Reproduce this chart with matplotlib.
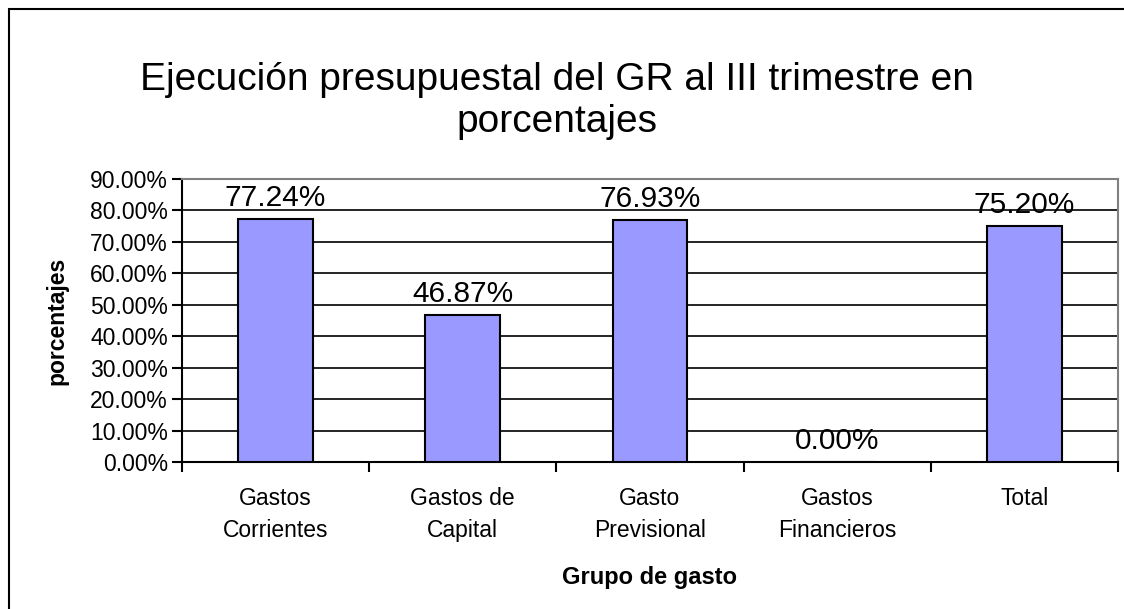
import numpy as np
import matplotlib.pyplot as plt
from matplotlib.patches import Rectangle

plt.rcParams['font.family'] = ['Liberation Sans', 'DejaVu Sans']

categorias = ['Gastos\nCorrientes', 'Gastos de\nCapital', 'Gasto\nPrevisional',
              'Gastos\nFinancieros', 'Total']
valores = [0.7724, 0.4687, 0.7693, 0.0, 0.7520]
yticks = np.arange(0, 0.91, 0.1)

fig = plt.figure(figsize=(11.24, 6.09), dpi=100)
fig.patches.append(Rectangle((9/1124, -0.05), 1.2, 1 - 9/609 + 0.05, transform=fig.transFigure,
                             fill=False, edgecolor='black', linewidth=1.5))

ax = fig.add_axes([182/1124, 1 - 462/609, (1118 - 182)/1124, (462 - 179)/609])
x = np.arange(len(valores))
bars = ax.bar(x, valores, width=0.4, color='#9999FF', edgecolor='black', linewidth=1.5, zorder=3)

for xi, v in zip(x, valores):
    ax.annotate('%.2f%%' % (v * 100), (xi, v), xytext=(0, 5), textcoords='offset points',
                ha='center', va='bottom', fontsize=21.5)

ax.set_xlim(-0.5, len(valores) - 0.5)
ax.set_ylim(0, 0.9)
ax.set_yticks(yticks)
ax.set_yticklabels(['%.2f%%' % (t * 100) for t in yticks], fontsize=16.5)
ax.yaxis.grid(True, color='black', linewidth=1.2, zorder=0)
ax.set_axisbelow(True)

ax.set_xticks(x)
ax.set_xticklabels(categorias, fontsize=16.5, linespacing=1.5)
ax.set_xticks(np.arange(-0.5, len(valores)), minor=True)
ax.tick_params(axis='x', which='major', length=0, pad=18)
ax.tick_params(axis='x', which='minor', length=7, width=1.5, direction='out')
ax.tick_params(axis='y', length=7, width=1.5, direction='out', pad=3)

for s in ['left', 'bottom']:
    ax.spines[s].set_linewidth(1.5)
for s in ['top', 'right']:
    ax.spines[s].set_color('#808080')
    ax.spines[s].set_linewidth(1.5)

ax.set_ylabel('porcentajes', fontsize=16.5, fontweight='bold', labelpad=16)
ax.set_xlabel('Grupo de gasto', fontsize=17, fontweight='bold', labelpad=17)

fig.text(557/1124, 1 - 101/609, 'Ejecución presupuestal del GR al III trimestre en\nporcentajes',
         ha='center', va='center', fontsize=28, linespacing=1.2)

plt.savefig('out.png', dpi=100)
